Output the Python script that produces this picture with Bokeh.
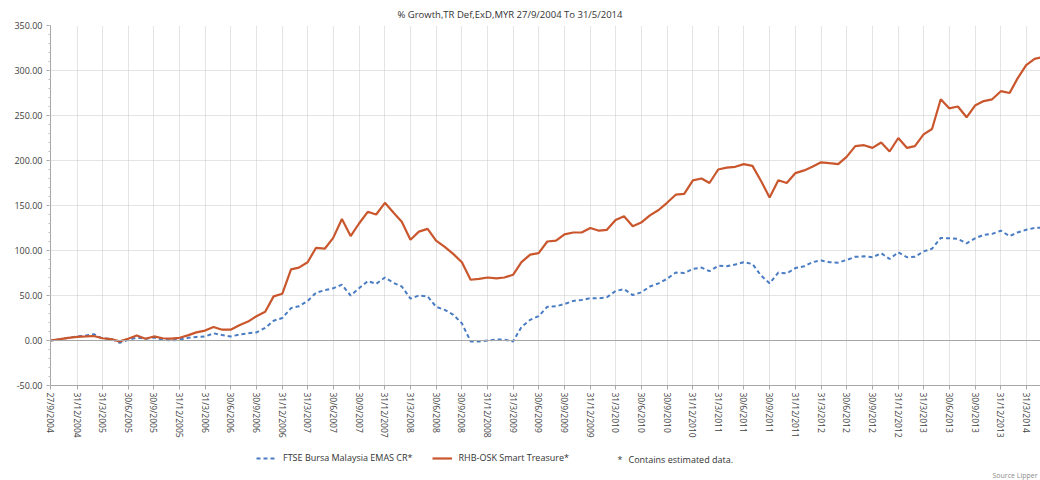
import calendar
from datetime import datetime
import pandas as pd
from bokeh.plotting import figure
from bokeh.layouts import column
from bokeh.models import (Range1d, FixedTicker, SingleIntervalTicker, NumeralTickFormatter,
                          Span, Label, Legend, LegendItem)
from bokeh.models import ColumnDataSource
from bokeh.embed import file_html
from bokeh.resources import INLINE

# ---------------- data ----------------
start_date = "27/9/2004"
first_month_end = "31/10/2004"
n_month_ends = 116

rhb_osk = [
    0, 1.5, 3, 4, 4.5, 5, 2.5, 1.5, -1, 2,
    5.5, 2, 4.5, 2.5, 2, 3, 6, 9, 11, 15,
    12, 12, 17, 21, 27, 32, 49, 52, 79, 81,
    87, 103, 102, 114, 135, 116, 130, 143, 140, 153,
    142, 132, 112, 121, 124, 111, 104, 96, 87, 67.5,
    68.5, 70, 69, 70, 73, 87, 95.5, 97, 110, 111,
    118, 120, 120, 125, 122, 123, 134, 138, 127, 131,
    139, 145, 153, 162, 163, 178, 180, 175, 190, 192,
    193, 196, 194, 177, 159, 178, 175, 186, 189, 193,
    198, 197, 196, 204, 216, 217, 214, 220, 210, 225,
    214, 216, 229, 235, 268, 258, 260, 248, 261, 266,
    268, 277, 275, 291, 306, 313, 315,
]

ftse_emas = [
    0, 1.5, 3, 4.5, 5.5, 7, 2.2, 2, -2.6, 0.8,
    3.3, 2, 3.3, 1, 0, 1, 3, 4, 4.5, 8,
    6, 4.5, 6.5, 8, 9, 14, 22, 25, 36, 38,
    44, 53, 56, 58, 62, 50, 58, 66, 63, 70,
    64, 60, 46.5, 50, 49, 37.5, 34, 28.5, 19, -1,
    -1, 0, 1, 1, -1, 15, 23, 27, 37.5, 38,
    40.5, 44, 45, 47, 47, 48, 55, 57, 50.5, 53.5,
    60, 63.5, 68.5, 75.5, 75, 79.5, 81, 77, 83, 82.5,
    84.5, 87, 85, 72, 63.5, 75.5, 74.5, 80.5, 82.5, 87,
    89, 87, 86.5, 89.5, 93, 93.5, 92.5, 97, 90.5, 98,
    92.5, 93, 99, 102, 114, 113.5, 113, 108, 113.5, 117.5,
    118.5, 122, 116, 120, 123, 125, 125.5,
]

tick_labels = [
    "27/9/2004", "31/12/2004", "31/3/2005", "30/6/2005", "30/9/2005", "31/12/2005",
    "31/3/2006", "30/6/2006", "30/9/2006", "31/12/2006", "31/3/2007", "30/6/2007",
    "30/9/2007", "31/12/2007", "31/3/2008", "30/6/2008", "30/9/2008", "31/12/2008",
    "31/3/2009", "30/6/2009", "30/9/2009", "31/12/2009", "31/3/2010", "30/6/2010",
    "30/9/2010", "31/12/2010", "31/3/2011", "30/6/2011", "30/9/2011", "31/12/2011",
    "31/3/2012", "30/6/2012", "30/9/2012", "31/12/2012", "31/3/2013", "30/6/2013",
    "30/9/2013", "31/12/2013", "31/3/2014",
]

series_names = ["FTSE Bursa Malaysia EMAS CR*", "RHB-OSK Smart Treasure*"]
title_text = "% Growth,TR Def,ExD,MYR 27/9/2004 To 31/5/2014"
note_text = "Contains estimated data."
source_text = "Source Lipper"
view_end = "21/5/2014"

# ---------------- helpers ----------------
def parse(s):
    return datetime.strptime(s, "%d/%m/%Y")

def to_ms(dt):
    return float(calendar.timegm(dt.timetuple()) * 1000)

dates = [pd.Timestamp(parse(start_date))] + list(
    pd.date_range(parse(first_month_end), periods=n_month_ends, freq=pd.offsets.MonthEnd()))

src = ColumnDataSource(dict(date=dates, ftse=ftse_emas, rhb=rhb_osk))
tick_ms = [to_ms(parse(t)) for t in tick_labels]

FONT = "Open Sans"
BLUE = "#4A7CC4"
ORANGE = "#C9562C"
TXT = "#333333"
BLUE_STYLE = dict(line_color=BLUE, line_width=2, line_dash="4 3")
ORANGE_STYLE = dict(line_color=ORANGE, line_width=2.2)

# ---------------- main chart ----------------
p = figure(width=1040, height=445, x_axis_type="datetime",
           output_backend="svg", toolbar_location=None,
           x_range=Range1d(to_ms(parse(start_date)), to_ms(parse(view_end))),
           y_range=Range1d(-50, 350),
           min_border_left=50, min_border_right=0, min_border_top=25, min_border_bottom=60)
p.outline_line_color = None
p.background_fill_color = "white"
p.border_fill_color = "white"

p.title.text = title_text
p.title.align = "left"
p.title.offset = 347
p.title.standoff = 10
p.title.text_font = FONT
p.title.text_font_size = "9.5px"
p.title.text_font_style = "normal"
p.title.text_color = TXT

p.xaxis.ticker = FixedTicker(ticks=tick_ms)
p.xaxis.major_label_overrides = {t: l for t, l in zip(tick_ms, tick_labels)}
p.xaxis.major_label_orientation = "vertical"
p.xaxis.major_label_text_font = FONT
p.xaxis.major_label_text_font_size = "8.5px"
p.xaxis.major_label_text_color = "#404040"
p.xaxis.major_label_standoff = 3
p.xaxis.major_tick_out = 4
p.xaxis.major_tick_in = 0
p.xaxis.minor_tick_line_color = None
p.xaxis.axis_line_color = "#A6A6A6"
p.xaxis.major_tick_line_color = "#A6A6A6"

p.yaxis.ticker = SingleIntervalTicker(interval=50, num_minor_ticks=5)
p.yaxis.formatter = NumeralTickFormatter(format="0.00")
p.yaxis.major_label_text_font = FONT
p.yaxis.major_label_text_font_size = "9px"
p.yaxis.major_label_text_color = "#404040"
p.yaxis.major_label_standoff = 4
p.yaxis.major_tick_out = 4
p.yaxis.major_tick_in = 0
p.yaxis.minor_tick_out = 2
p.yaxis.minor_tick_in = 0
p.yaxis.axis_line_color = "#A6A6A6"
p.yaxis.major_tick_line_color = "#A6A6A6"
p.yaxis.minor_tick_line_color = "#BFBFBF"

p.xgrid.grid_line_color = "#C8C8C8"
p.xgrid.grid_line_dash = "1 1"
p.ygrid.grid_line_color = "#C8C8C8"
p.ygrid.grid_line_dash = "1 1"

p.add_layout(Span(location=0, dimension="width", line_color="#A6A6A6", line_width=1))

p.line("date", "ftse", source=src, **BLUE_STYLE)
p.line("date", "rhb", source=src, **ORANGE_STYLE)

# ---------------- footer (legend + notes), page-pixel coordinates ----------------
f = figure(width=1040, height=35, output_backend="svg", toolbar_location=None,
           x_range=Range1d(50, 1040), y_range=Range1d(0, 35),
           x_axis_location=None, y_axis_location=None,
           min_border_left=50, min_border_right=0, min_border_top=0, min_border_bottom=0)
f.outline_line_color = None
f.grid.visible = False
f.background_fill_color = "white"
f.border_fill_color = "white"

# legend swatches reuse the series (their dates lie far outside this footer's range)
lf = f.line("date", "ftse", source=src, **BLUE_STYLE)
lr = f.line("date", "rhb", source=src, **ORANGE_STYLE)
legend = Legend(items=[LegendItem(label=series_names[0], renderers=[lf]),
                       LegendItem(label=series_names[1], renderers=[lr])],
                location=(206, 16), orientation="horizontal",
                label_text_font=FONT, label_text_font_size="9px",
                label_text_color=TXT, glyph_width=20, glyph_height=10,
                label_height=10, label_standoff=7, spacing=19, padding=0, margin=0,
                border_line_color=None, background_fill_alpha=0)
f.add_layout(legend)

f.add_layout(Label(x=617, y=21, text="*", text_align="left", text_baseline="middle",
                   text_font=FONT, text_font_size="9px", text_color=TXT))
f.add_layout(Label(x=628, y=21, text=note_text, text_align="left", text_baseline="middle",
                   text_font=FONT, text_font_size="9px", text_color=TXT))
f.add_layout(Label(x=992, y=5.5, text=source_text, text_align="left", text_baseline="middle",
                   text_font=FONT, text_font_size="7px", text_color="#8C8C8C"))

layout = column(p, f, spacing=0)
open("out.html", "w").write(file_html(layout, INLINE))
